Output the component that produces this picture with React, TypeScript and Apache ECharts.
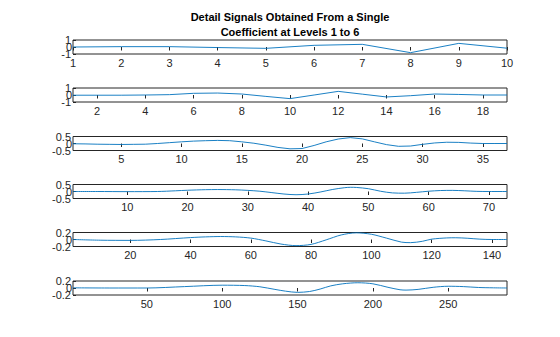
import React, { useEffect, useRef } from "react";
import * as echarts from "echarts";

const titleLines = ["Detail Signals Obtained From a Single", "Coefficient at Levels 1 to 6"];

// Level 1..3: one value per sample (x = 1..N)
const level1 = [0, 0.05, 0.05, -0.08, -0.19, 0.24, 0.38, -0.81, 0.52, -0.17];
const level2 = [-0.03, -0.03, -0.03, 0, 0.05, 0.24, 0.28, 0.14, -0.2, -0.52, 0, 0.52, 0.12, -0.28, -0.1, 0.14, 0.08, 0, 0];
const level3 = [
  -0.02, -0.03, -0.05, -0.06, -0.07, -0.06, -0.05, 0, 0.06, 0.12, 0.17, 0.2, 0.22, 0.2, 0.12, 0.02, -0.12, -0.28, -0.38,
  -0.36, -0.14, 0.12, 0.32, 0.42, 0.33, 0.12, -0.08, -0.2, -0.18, -0.06, 0.04, 0.09, 0.08, 0.03, 0, 0, 0,
];

// Levels 4..6: values read at sample positions
const level4X = [1, 5, 10, 15, 18, 20, 23, 25, 28, 30, 32, 34, 36, 38, 40, 42, 44, 46, 47, 48, 50, 52, 54, 56, 58, 60, 62, 64, 66, 68, 70, 73];
const level4Y = [0, 0, -0.01, 0, 0.05, 0.09, 0.13, 0.14, 0.12, 0.08, 0.02, -0.08, -0.18, -0.23, -0.18, -0.04, 0.14, 0.27, 0.3, 0.29, 0.2, 0.02, -0.1, -0.12, -0.06, 0.02, 0.07, 0.08, 0.05, 0.01, 0, 0];

const level5X = [1, 10, 20, 30, 40, 45, 50, 55, 60, 65, 70, 75, 80, 85, 90, 95, 100, 105, 110, 113, 117, 120, 125, 128, 132, 136, 140, 145];
const level5Y = [0, -0.02, -0.025, 0, 0.055, 0.075, 0.085, 0.075, 0.04, -0.04, -0.13, -0.175, -0.14, -0.01, 0.13, 0.19, 0.15, 0.04, -0.075, -0.09, -0.05, 0.01, 0.045, 0.05, 0.035, 0.01, 0, 0];

const level6X = [1, 25, 50, 75, 100, 115, 125, 135, 142, 150, 158, 165, 172, 180, 190, 200, 210, 218, 222, 230, 240, 250, 260, 270, 280, 289];
const level6Y = [0.005, 0, 0, 0.04, 0.08, 0.07, 0.035, -0.04, -0.09, -0.125, -0.1, -0.03, 0.06, 0.12, 0.15, 0.12, 0.02, -0.05, -0.06, -0.04, 0.02, 0.05, 0.04, 0.015, 0.005, 0];

const lengths = [10, 19, 37, 73, 145, 289];
const xTicks = [
  [1, 2, 3, 4, 5, 6, 7, 8, 9, 10],
  [2, 4, 6, 8, 10, 12, 14, 16, 18],
  [5, 10, 15, 20, 25, 30, 35],
  [10, 20, 30, 40, 50, 60, 70],
  [20, 40, 60, 80, 100, 120, 140],
  [50, 100, 150, 200, 250],
];
const yLimits = [1, 1, 0.5, 0.5, 0.2, 0.2];

export default function App() {
  const ref = useRef<HTMLDivElement>(null);
  useEffect(() => {
    if (!ref.current) return;
    const chart = echarts.init(ref.current, null, { renderer: "svg" });
    const seriesData: number[][][] = [
      level1.map((v, i) => [i + 1, v]),
      level2.map((v, i) => [i + 1, v]),
      level3.map((v, i) => [i + 1, v]),
      level4X.map((x, i) => [x, level4Y[i]]),
      level5X.map((x, i) => [x, level5Y[i]]),
      level6X.map((x, i) => [x, level6Y[i]]),
    ];
    const tops = [40, 88, 136.5, 184.5, 232.5, 281];
    const font = { fontFamily: "Liberation Sans, Arial, sans-serif", fontSize: 11, color: "#262626" };
    const grids: any[] = [];
    const xAxes: any[] = [];
    const yAxes: any[] = [];
    const series: any[] = [];
    for (let i = 0; i < 6; i++) {
      grids.push({
        left: 73,
        width: 434,
        top: tops[i],
        height: 14,
        show: true,
        borderColor: "#262626",
        borderWidth: 1,
        backgroundColor: "#ffffff",
      });
      xAxes.push({
        type: "value",
        gridIndex: i,
        position: "bottom",
        min: 1,
        max: lengths[i],
        axisLine: { show: false },
        axisTick: { show: false },
        axisLabel: { ...font, margin: 3, customValues: xTicks[i], showMinLabel: true, showMaxLabel: true, hideOverlap: false },
        splitLine: { show: false },
      });
      xAxes.push({
        type: "value",
        gridIndex: i,
        position: "top",
        min: 1,
        max: lengths[i],
        axisLine: { show: false },
        axisTick: { show: true, inside: true, length: 3.5, customValues: xTicks[i], lineStyle: { color: "#262626", width: 1 } },
        axisLabel: { show: false },
        splitLine: { show: false },
      });
      const lim = yLimits[i];
      // axis with the end labels (and the series)
      yAxes.push({
        type: "value",
        gridIndex: i,
        position: "left",
        min: -lim,
        max: lim,
        interval: lim,
        axisLine: { show: false },
        axisTick: { show: true, inside: true, length: 3, lineStyle: { color: "#262626" } },
        axisLabel: {
          ...font,
          margin: 2,
          customValues: [-lim, lim],
          showMinLabel: true,
          showMaxLabel: true,
          hideOverlap: false,
        },
        splitLine: { show: false },
      });
      // axis carrying only the zero label
      yAxes.push({
        type: "value",
        gridIndex: i,
        position: "left",
        min: -lim,
        max: lim,
        interval: lim,
        axisLine: { show: false },
        axisTick: { show: false },
        axisLabel: {
          ...font,
          margin: 1,
          customValues: [0],
          hideOverlap: false,
        },
        splitLine: { show: false },
      });
      series.push({
        type: "line",
        xAxisIndex: 2 * i,
        yAxisIndex: 2 * i,
        data: seriesData[i],
        showSymbol: false,
        smooth: i >= 3 ? 0.3 : false,
        clip: true,
        lineStyle: { color: "#0072BD", width: 0.9 },
      });
    }
    chart.setOption({
      animation: false,
      backgroundColor: "#ffffff",
      title: {
        text: titleLines.join("\n"),
        left: 290,
        top: 9,
        padding: 0,
        textAlign: "center",
        textStyle: {
          fontFamily: "Liberation Sans, Arial, sans-serif",
          fontSize: 11,
          fontWeight: "bold",
          color: "#000000",
          lineHeight: 15,
        },
      },
      grid: grids,
      xAxis: xAxes,
      yAxis: yAxes,
      series,
    });
    return () => chart.dispose();
  }, []);
  return <div ref={ref} style={{ position: "fixed", left: 0, top: 0, width: 560, height: 337 }} />;
}
